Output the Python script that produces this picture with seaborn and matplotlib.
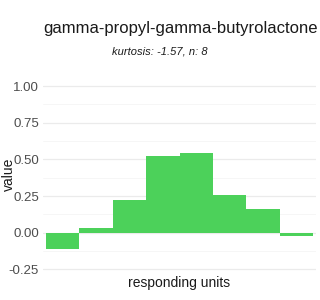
import matplotlib
matplotlib.use("Agg")
import matplotlib.pyplot as plt
import seaborn as sns
import pandas as pd
import numpy as np

units = ["u1", "u2", "u3", "u4", "u5", "u6", "u7", "u8"]
values = [-0.113, 0.032, 0.223, 0.523, 0.543, 0.257, 0.162, -0.02]
yticks = [-0.25, 0.0, 0.25, 0.5, 0.75, 1.0]
ytick_labels = ["-0.25", "0.00", "0.25", "0.50", "0.75", "1.00"]
title = "gamma-propyl-gamma-butyrolactone"
subtitle = "kurtosis: -1.57, n: 8"

sns.set_theme(style="white")
plt.rcParams['font.family'] = ['Liberation Sans', 'DejaVu Sans']

df = pd.DataFrame({"unit": units, "value": values})

fig = plt.figure(figsize=(3.2, 3.0), dpi=100)
top_px, bot_px = 77.2, 271.6
ax = fig.add_axes([43/320, 1 - bot_px/300, 273/320, (bot_px - top_px)/300])
sns.barplot(data=df, x="unit", y="value", color="#4CD15A", width=1.0,
            saturation=1, ax=ax, edgecolor="none", linewidth=0)

ax.set_xlim(-0.59, 7.59)
ax.set_ylim(-0.265, 1.06)
ax.set_yticks(yticks)
ax.set_yticklabels(ytick_labels)
ax.set_yticks(np.arange(-0.125, 1.0, 0.25), minor=True)
ax.grid(axis="y", which="major", color="#EBEBEB", linewidth=0.9)
ax.grid(axis="y", which="minor", color="#F5F5F5", linewidth=0.6)
ax.grid(axis="x", visible=False)
ax.set_axisbelow(True)
for s in ax.spines.values():
    s.set_visible(False)
ax.set_xticks([])
ax.tick_params(axis="y", length=0, pad=3, labelsize=9.5, labelcolor="#4D4D4D")
ax.tick_params(axis="y", which="minor", length=0)
ax.set_xlabel("responding units", fontsize=10, color="#1A1A1A", labelpad=3)
ax.set_ylabel("value", fontsize=10, color="#1A1A1A")
ax.yaxis.set_label_coords(-0.1, 0.5)

fig.text(180/320, 1 - 29/300, title, ha="center", va="center", fontsize=12, color="#1A1A1A")
fig.text(160/320, 1 - 52/300, subtitle, ha="center", va="center", fontsize=8, style="italic", color="#1A1A1A")

fig.savefig("out.png", dpi=100, facecolor="white")
